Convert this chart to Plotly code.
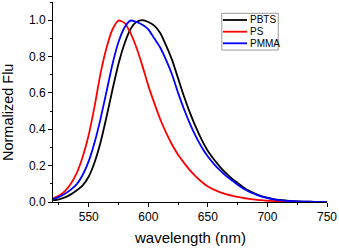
import plotly.graph_objects as go

wavelength = [520, 525, 530, 535, 540, 545, 550, 555, 560, 565, 570, 575, 580, 585, 590,
              595, 600, 605, 610, 615, 620, 625, 630, 635, 640, 645, 650, 655, 660, 665,
              670, 675, 680, 685, 690, 695, 700, 705, 710, 720, 730, 740, 750]

pbts = [0.010, 0.015, 0.025, 0.042, 0.065, 0.092, 0.14, 0.22, 0.33, 0.47, 0.62, 0.76, 0.87, 0.95, 0.99,
        1.00, 0.99, 0.97, 0.93, 0.86, 0.78, 0.68, 0.58, 0.49, 0.41, 0.34, 0.28, 0.235, 0.195, 0.16,
        0.13, 0.105, 0.08, 0.06, 0.045, 0.033, 0.024, 0.016, 0.011, 0.005, 0.002, 0.001, 0.0]

ps = [0.020, 0.035, 0.060, 0.100, 0.160, 0.250, 0.370, 0.530, 0.710, 0.850, 0.950, 0.998, 0.985, 0.930, 0.850,
      0.750, 0.640, 0.545, 0.455, 0.380, 0.315, 0.260, 0.215, 0.174, 0.140, 0.110, 0.085, 0.068, 0.054, 0.043,
      0.035, 0.028, 0.022, 0.017, 0.013, 0.010, 0.007, 0.005, 0.003, 0.002, 0.001, 0.0, 0.0]

pmma = [0.015, 0.028, 0.045, 0.068, 0.098, 0.150, 0.225, 0.330, 0.460, 0.610, 0.760, 0.880, 0.960, 0.998, 0.990,
        0.975, 0.950, 0.900, 0.850, 0.780, 0.700, 0.600, 0.510, 0.430, 0.360, 0.300, 0.250, 0.210, 0.175, 0.145,
        0.120, 0.095, 0.073, 0.055, 0.042, 0.030, 0.022, 0.015, 0.010, 0.005, 0.002, 0.001, 0.0]

series_names = ["PBTS", "PS", "PMMA"]
series_values = [pbts, ps, pmma]
series_colors = ["#000000", "#ff0000", "#0000ff"]

x_ticks = [550, 600, 650, 700, 750]
y_ticks = [0.0, 0.2, 0.4, 0.6, 0.8, 1.0]
y_tick_labels = ["0.0", "0.2", "0.4", "0.6", "0.8", "1.0"]

FONT = "Liberation Sans, Arial, sans-serif"

fig = go.Figure()
for name, vals, col in zip(series_names, series_values, series_colors):
    fig.add_trace(go.Scatter(x=wavelength, y=vals, name=name, mode="lines", showlegend=False,
                             line=dict(color=col, width=1.8, shape="spline", smoothing=0.6)))

# compact legend box (paper coordinates)
shapes = [dict(type="rect", xref="paper", yref="paper", x0=0.616, x1=0.822, y0=0.76, y1=0.9435,
               line=dict(color="#999999", width=1), fillcolor="white", layer="above")]
annotations = []
legend_rows = [0.91, 0.8515, 0.7935]
for name, col, yy in zip(series_names, series_colors, legend_rows):
    shapes.append(dict(type="line", xref="paper", yref="paper", x0=0.620, x1=0.708, y0=yy, y1=yy,
                       line=dict(color=col, width=1.8), layer="above"))
    annotations.append(dict(text=name, xref="paper", yref="paper", x=0.712, y=yy,
                            xanchor="left", yanchor="middle", showarrow=False,
                            font=dict(family=FONT, size=10, color="black")))

annotations.append(dict(text="Normalized Flu", textangle=-90, xref="paper", yref="paper",
                        x=-0.164, y=0.45, xanchor="center", yanchor="middle", showarrow=False,
                        font=dict(family=FONT, size=14.5, color="black")))
annotations.append(dict(text="wavelength (nm)", xref="paper", yref="paper",
                        x=0.5, y=-0.175, xanchor="center", yanchor="middle", showarrow=False,
                        font=dict(family=FONT, size=15, color="black")))

fig.update_layout(
    width=339, height=248,
    margin=dict(l=53, r=12, t=2, b=46, autoexpand=False),
    paper_bgcolor="white", plot_bgcolor="white",
    font=dict(family=FONT, size=12, color="black"),
    showlegend=False,
    shapes=shapes,
    annotations=annotations,
    xaxis=dict(range=[520, 750], tickvals=x_ticks, ticks="outside", ticklen=4,
               tickcolor="black", showline=True, linecolor="black", linewidth=1,
               showgrid=False, zeroline=False, automargin=False, ticklabeloverflow="allow",
               tickfont=dict(family=FONT, size=12),
               minor=dict(dtick=25, tick0=525, ticks="outside", ticklen=2, tickcolor="black")),
    yaxis=dict(range=[0, 1.1], tickvals=y_ticks, ticktext=y_tick_labels, ticks="outside", ticklen=4,
               tickcolor="black", showline=True, linecolor="black", linewidth=1,
               showgrid=False, zeroline=False, automargin=False, ticklabeloverflow="allow",
               tickfont=dict(family=FONT, size=12),
               minor=dict(dtick=0.1, tick0=0.1, ticks="outside", ticklen=2, tickcolor="black")),
)

fig.write_html("out.html", config={"displayModeBar": False},
               post_script="document.body.style.margin='0';document.body.style.padding='0';")
